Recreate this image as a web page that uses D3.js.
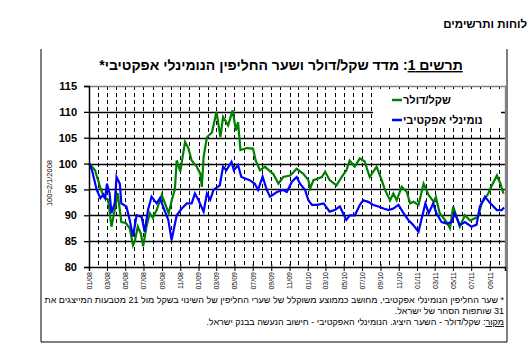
<!DOCTYPE html>
<html><head><meta charset="utf-8">
<script src="https://cdn.jsdelivr.net/npm/d3@7"></script>
<style>body{margin:0;background:#fff}svg{display:block}</style>
</head><body>
<svg id="c" width="532" height="356"></svg>
<script>
// ---- data ----
const usdDates = ["2008-01-02","2008-01-21","2008-02-07","2008-02-20","2008-03-05","2008-03-16","2008-03-27","2008-04-06","2008-04-18","2008-05-03","2008-05-16","2008-05-27","2008-06-02","2008-06-12","2008-06-22","2008-06-30","2008-07-11","2008-07-22","2008-08-01","2008-08-14","2008-08-31","2008-09-11","2008-09-23","2008-10-04","2008-10-14","2008-10-20","2008-11-01","2008-11-17","2008-11-28","2008-12-09","2008-12-26","2009-01-07","2009-01-12","2009-01-18","2009-01-29","2009-02-15","2009-03-02","2009-03-15","2009-03-24","2009-04-10","2009-04-25","2009-05-06","2009-05-13","2009-05-21","2009-06-11","2009-07-02","2009-07-11","2009-07-25","2009-08-11","2009-08-28","2009-09-08","2009-09-25","2009-10-11","2009-11-03","2009-11-25","2009-12-17","2010-01-03","2010-01-09","2010-01-20","2010-02-17","2010-02-28","2010-03-15","2010-04-07","2010-04-24","2010-05-10","2010-05-21","2010-06-07","2010-06-24","2010-07-10","2010-07-27","2010-08-19","2010-09-05","2010-09-16","2010-10-03","2010-10-14","2010-10-25","2010-11-11","2010-11-28","2010-12-09","2010-12-20","2011-01-06","2011-01-23","2011-02-09","2011-02-26","2011-03-05","2011-03-18","2011-04-10","2011-04-21","2011-05-02","2011-05-24","2011-06-10","2011-06-27","2011-07-24","2011-08-05","2011-08-27","2011-09-03","2011-09-25","2011-10-06","2011-10-17"];
const usdValues = [100,98.7,95.5,93.5,93,87.8,91,94.3,88.7,88.5,87.5,84.2,85,87.8,86.5,84,87.8,90.4,89.5,91,93.9,92.3,90.4,93,95,100.6,98.5,104.2,103,100.6,99.4,98,95.5,101.3,105.1,106,110,105.1,109,107.4,110.3,106.4,108,102.6,103,102.9,100.6,98.7,99.4,98.5,98,96.1,97.4,97.7,99,98,96.8,95.2,96.8,97.4,98.4,96.8,95.8,97.4,98.7,100.6,99.4,101,100.4,97.4,99.4,96.8,94.9,92.9,94.2,92.9,95.5,94.5,92.3,92.6,92,96.1,93.9,92.6,93.5,90.4,88.7,87.5,91.7,87.8,90,89,89.7,92.3,94.2,95.2,97.7,96.2,94.2];
const nerDates = ["2008-01-02","2008-01-11","2008-01-18","2008-01-27","2008-02-08","2008-02-18","2008-02-24","2008-03-01","2008-03-10","2008-03-16","2008-03-27","2008-04-02","2008-04-13","2008-04-18","2008-05-05","2008-05-16","2008-05-27","2008-06-08","2008-06-25","2008-07-05","2008-07-16","2008-07-28","2008-08-14","2008-08-25","2008-09-11","2008-09-22","2008-10-03","2008-10-20","2008-11-06","2008-11-23","2008-12-09","2008-12-20","2009-01-01","2009-01-18","2009-01-29","2009-02-09","2009-02-20","2009-03-13","2009-03-24","2009-04-04","2009-04-21","2009-04-29","2009-05-13","2009-05-24","2009-06-21","2009-07-08","2009-07-19","2009-08-03","2009-08-17","2009-08-28","2009-09-20","2009-10-11","2009-10-23","2009-11-09","2009-11-25","2009-12-06","2009-12-23","2010-01-03","2010-01-15","2010-02-01","2010-02-23","2010-03-15","2010-04-01","2010-04-18","2010-05-10","2010-05-21","2010-06-07","2010-06-24","2010-07-05","2010-07-22","2010-08-08","2010-08-25","2010-09-11","2010-09-28","2010-10-14","2010-10-31","2010-11-17","2010-12-03","2010-12-20","2011-01-06","2011-01-18","2011-01-29","2011-02-09","2011-02-24","2011-03-07","2011-03-24","2011-04-10","2011-04-27","2011-05-07","2011-05-24","2011-06-10","2011-07-02","2011-07-19","2011-07-30","2011-08-16","2011-09-03","2011-09-25","2011-10-11","2011-10-19"];
const nerValues = [100,98.7,97,94.9,93.3,94,93.3,96.1,94.2,90.4,92.3,97.4,96.1,92.3,91.7,89.1,85.9,90,89.7,86.8,91,93.6,92.3,93.3,90.7,89.1,85.2,90,91.3,92.3,92.3,94.2,92.9,90.7,94.2,93,94.9,95.8,99.4,98.7,100.3,98.7,99.7,97.4,96.8,96.1,94.9,97.5,94.9,93.6,94.5,94.9,94.5,96.5,97.4,96.1,94.9,92.9,92,92,92.3,90.7,91,91.7,89.1,90,90,92,92.9,92.6,92,91.7,91.3,91,91.3,92,90.4,89.1,88.1,86.8,89.7,92.3,90.4,92.3,90.4,88.7,88.4,88.7,90.4,88.1,88.7,87.8,88.2,91.7,93.6,92.3,91,91,91.5];
const yTicks = [80,85,90,95,100,105,110,115];
const seriesNames = ["שקל/דולר","נומינלי אפקטיבי"];
const seriesColors = ["#008000","#0000ff"];
const titleMain = "תרשים 1";
const titleRest = ": מדד שקל/דולר ושער החליפין הנומינלי אפקטיבי*";
const header = "לוחות ותרשימים";
const yLabel = "100=2/1/2008";
const note1 = "* שער החליפין הנומינלי אפקטיבי, מחושב כממוצע משוקלל של שערי החליפין של השינוי בשקל מול 21 מטבעות המייצגים את";
const note2 = "31 שותפות הסחר של ישראל.";
const srcLabel = "מקור";
const srcText = ": שקל/דולר - השער היציג. הנומינלי האפקטיבי - חישוב הנעשה בבנק ישראל.";

// ---- chart ----
const parse = d3.timeParse("%Y-%m-%d");
const svg = d3.select("#c");
const font = "'Liberation Sans', Arial, 'DejaVu Sans', sans-serif";
svg.attr("font-family", font);

const L = 89, R = 505, T = 86, B = 267;
const x = d3.scaleTime().domain([parse("2008-01-01"), parse("2011-10-22")]).range([L, R]);
const y = d3.scaleLinear().domain([80, 115]).range([B, T]);

// outer frame (no top)
svg.append("path").attr("d", `M41,49V342H507V49`).attr("fill","none").attr("stroke","#000").attr("stroke-width",1);

// header
svg.append("text").attr("x", 527).attr("y", 28).attr("text-anchor","start").attr("direction","rtl").attr("font-size", 11.5).attr("font-weight","bold").text(header);

// title
const tt = svg.append("text").attr("x", 281).attr("y", 70).attr("text-anchor","middle")
  .attr("direction","rtl").attr("font-size", 14).attr("font-weight","bold");
tt.append("tspan").attr("text-decoration","underline").text(titleMain);
tt.append("tspan").text(titleRest);

// monthly dashed gridlines
const months = x.ticks(d3.timeMonth.every(1)).filter(d => x(d) > L + 1);
svg.append("g").selectAll("line").data(months).join("line")
  .attr("x1", d => Math.round(x(d)) + 0.5).attr("x2", d => Math.round(x(d)) + 0.5)
  .attr("y1", T).attr("y2", B)
  .attr("stroke","#000").attr("stroke-width",1).attr("stroke-dasharray","4,3");

// horizontal gridlines
svg.append("g").selectAll("line").data(yTicks.filter(v => v > 80 && v < 115)).join("line")
  .attr("x1", L).attr("x2", R).attr("y1", d => Math.round(y(d)) + 0.5).attr("y2", d => Math.round(y(d)) + 0.5)
  .attr("stroke","#000").attr("stroke-width",1.3);

// plot border top/right
svg.append("path").attr("d", `M${L},${T+0.5}H${R+0.5}V${B}`).attr("fill","none").attr("stroke","#808080").attr("stroke-width",1.3);

// lines
const line = d3.line().x(d => x(d[0])).y(d => y(d[1]));
const usd = usdDates.map((d,i) => [parse(d), usdValues[i]]);
const ner = nerDates.map((d,i) => [parse(d), nerValues[i]]);
svg.append("path").datum(usd).attr("d", line).attr("fill","none").attr("stroke", seriesColors[0]).attr("stroke-width",2.2).attr("stroke-linejoin","miter");
svg.append("path").datum(ner).attr("d", line).attr("fill","none").attr("stroke", seriesColors[1]).attr("stroke-width",2.2).attr("stroke-linejoin","miter");

// y axis
const ya = svg.append("g").attr("transform", `translate(${L},0)`)
  .call(d3.axisLeft(y).tickValues(yTicks).tickSize(5).tickPadding(7).tickFormat(d3.format("d")));
ya.select(".domain").attr("stroke","#000").attr("stroke-width",1.5);
ya.selectAll(".tick line").attr("stroke","#000").attr("stroke-width",1.3);
ya.selectAll("text").attr("font-size", 11).attr("font-weight","bold").attr("font-family", font).attr("fill","#000");

// x axis
const xa = svg.append("g").attr("transform", `translate(0,${B})`)
  .call(d3.axisBottom(x).ticks(d3.timeMonth.every(2)).tickSize(4).tickFormat(d3.timeFormat("%m/%y")));
xa.select(".domain").attr("stroke","#000").attr("stroke-width",1.5);
xa.selectAll(".tick line").attr("stroke","#000").attr("y1",-3);
xa.selectAll("text").attr("font-size", 7).attr("font-family", font).attr("fill","#000")
  .attr("transform","rotate(-90)").attr("text-anchor","end").attr("dy","0.35em").attr("x",-5).attr("y",0);

// y label
svg.append("text").attr("transform","translate(52,183) rotate(-90)").attr("text-anchor","middle")
  .attr("font-size", 7.5).text(yLabel);

// legend
const lg = svg.append("g");
lg.append("rect").attr("x",373).attr("y",89).attr("width",128).attr("height",38).attr("fill","#fff");
seriesNames.forEach((n,i) => {
  const yy = 100 + i*20;
  lg.append("line").attr("x1",392).attr("x2",402).attr("y1",yy).attr("y2",yy).attr("stroke",seriesColors[i]).attr("stroke-width",2.5);
  lg.append("text").attr("x",403).attr("y",yy+4).attr("font-size",11).attr("font-weight","bold").text(n);
});

// footnotes (rtl: anchor start = right edge)
svg.append("text").attr("x",504).attr("y",303).attr("text-anchor","start").attr("direction","rtl").attr("font-size",9).text(note1);
svg.append("text").attr("x",504).attr("y",314).attr("text-anchor","start").attr("direction","rtl").attr("font-size",9).text(note2);
const ft = svg.append("text").attr("x",504).attr("y",325).attr("text-anchor","start").attr("direction","rtl").attr("font-size",9);
ft.append("tspan").attr("text-decoration","underline").text(srcLabel);
ft.append("tspan").text(srcText);
</script>
</body></html>
